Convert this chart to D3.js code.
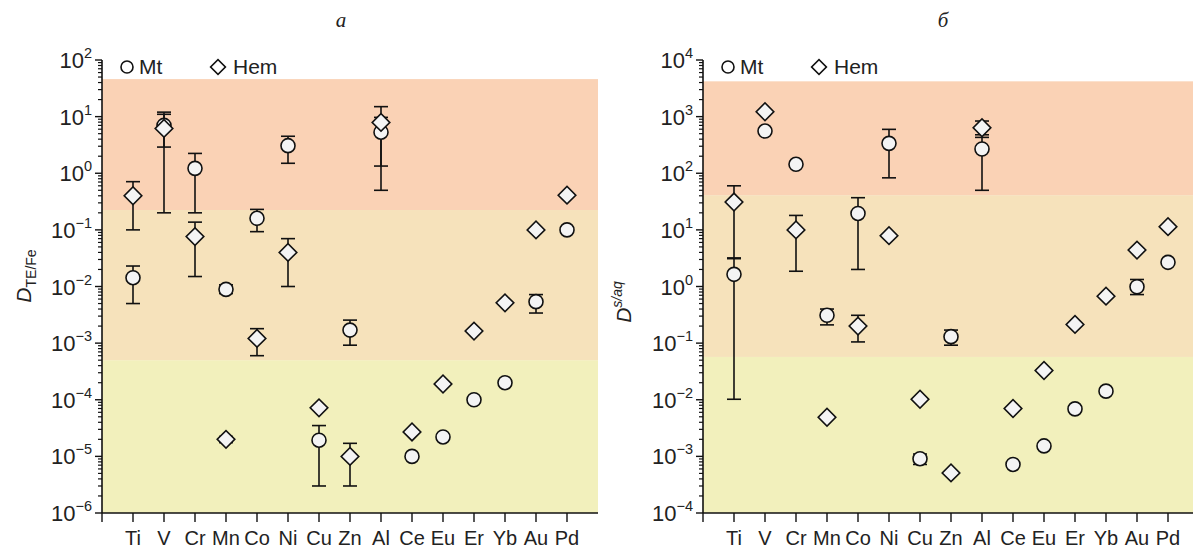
<!DOCTYPE html>
<html><head><meta charset="utf-8">
<script src="https://cdn.jsdelivr.net/npm/d3@7"></script>
<style>body{margin:0;background:#fff}svg{display:block;font-family:"Liberation Sans",Arial,sans-serif}</style>
</head><body>
<svg id="chart" width="1193" height="549"></svg>
<script>
const elements = ["Ti","V","Cr","Mn","Co","Ni","Cu","Zn","Al","Ce","Eu","Er","Yb","Au","Pd"];

// Panel а: D TE/Fe
const mtA    = [0.0143, 7.0, 1.22, 0.0089, 0.16, 3.07, 1.93e-5, 0.0017, 5.3, 1.0e-5, 2.2e-5, 1.0e-4, 2.0e-4, 0.0054, 0.10];
const mtALo  = [0.005, 0.2, 0.2, 0.0075, 0.093, 1.5, 3e-6, 0.00092, 1.34, null, null, null, null, 0.0034, null];
const mtAHi  = [0.023, 12, 2.24, 0.0107, 0.23, 4.5, 3.5e-5, 0.00255, 9.7, null, null, null, null, 0.0072, null];
const hemA   = [0.40, 6.2, 0.076, 2.0e-5, 0.00121, 0.04, 7.2e-5, 1.0e-5, 7.9, 2.7e-5, 1.9e-4, 0.00163, 0.00515, 0.10, 0.41];
const hemALo = [0.10, 2.9, 0.015, 1.75e-5, 0.0006, 0.01, null, 3e-6, 0.5, null, null, null, null, null, null];
const hemAHi = [0.71, 11, 0.137, 2.25e-5, 0.0018, 0.07, null, 1.7e-5, 15, null, null, null, null, null, null];
const bandsA = [1e-6, 5e-4, 0.224, 46];

// Panel б: D s/aq
const mtB    = [1.64, 557, 144, 0.31, 19.5, 337, 9.1e-4, 0.13, 268, 7.2e-4, 0.00153, 0.0069, 0.0142, 0.99, 2.67];
const mtBLo  = [0.0102, null, null, 0.21, 2.0, 83, 7.2e-4, 0.092, 50, null, null, null, null, 0.72, null];
const mtBHi  = [3.1, null, null, 0.40, 37, 596, 0.0011, 0.17, 430, null, null, null, null, 1.33, null];
const hemB   = [31, 1220, 10, 0.0049, 0.2, 7.9, 0.0102, 5.1e-4, 637, 0.0070, 0.0329, 0.214, 0.676, 4.4, 11.4];
const hemBLo = [3.2, null, 1.86, null, 0.105, null, null, null, 478, null, null, null, null, null, null];
const hemBHi = [60, null, 18, null, 0.31, null, null, null, 836, null, null, null, null, null, null];
const bandsB = [1e-4, 0.057, 41, 4200];

const expA = [-6,-5,-4,-3,-2,-1,0,1,2];
const expB = [-4,-3,-2,-1,0,1,2,3,4];

const bandColors = ["#f2f0bc", "#f6e2bb", "#fad2b5"];
const svg = d3.select("#chart");

function panel(opt) {
  const g = svg.append("g");
  const x = d3.scaleLinear().domain([0, 16]).range([opt.x0, opt.x0 + 496]);
  const y = d3.scaleLog().domain([Math.pow(10, opt.exps[0]), Math.pow(10, opt.exps[opt.exps.length-1])]).range([513, 60]);
  for (let i = 0; i < 3; i++) {
    g.append("rect").attr("x", x(0)).attr("width", x(16) - x(0))
      .attr("y", y(opt.bands[i+1])).attr("height", y(opt.bands[i]) - y(opt.bands[i+1]))
      .attr("fill", bandColors[i]);
  }
  const ya = g.append("g").attr("transform", `translate(${x(0)},0)`);
  ya.append("line").attr("y1", y.range()[1]).attr("y2", y.range()[0]).attr("stroke", "#111").attr("stroke-width", 1.6);
  const minors = [];
  opt.exps.slice(0, -1).forEach(e => { for (let m = 2; m <= 9; m++) minors.push(m * Math.pow(10, e)); });
  ya.selectAll(".mn").data(minors).join("line").attr("x1", -4).attr("x2", 0)
    .attr("y1", d => y(d)).attr("y2", d => y(d)).attr("stroke", "#111").attr("stroke-width", 1.2);
  ya.selectAll(".mj").data(opt.exps).join("line").attr("x1", -7).attr("x2", 0)
    .attr("y1", e => y(Math.pow(10, e))).attr("y2", e => y(Math.pow(10, e))).attr("stroke", "#111").attr("stroke-width", 1.4);
  const tl = ya.selectAll(".tl").data(opt.exps).join("text")
    .attr("x", -10).attr("y", e => y(Math.pow(10, e)) + 8)
    .attr("text-anchor", "end").attr("font-size", 22).attr("fill", "#222");
  tl.append("tspan").text("10");
  tl.append("tspan").attr("dy", -10).attr("font-size", 14.5).text(e => e < 0 ? "\u2212" + (-e) : e);
  const xa = g.append("g").attr("transform", "translate(0,513)");
  xa.append("line").attr("x1", x(0)).attr("x2", x(16)).attr("stroke", "#111").attr("stroke-width", 1.6);
  xa.selectAll(".xt").data(d3.range(0, 16)).join("line")
    .attr("x1", d => x(d)).attr("x2", d => x(d)).attr("y1", 0).attr("y2", 9).attr("stroke", "#111").attr("stroke-width", 1.4);
  xa.selectAll(".xl").data(elements).join("text")
    .attr("x", (d, i) => x(i + 1)).attr("y", 32).attr("text-anchor", "middle")
    .attr("font-size", 20).attr("fill", "#222").text(d => d);
  function errs(vals, lo, hi) {
    vals.forEach((v, i) => {
      const cx = x(i + 1);
      const segs = [];
      if (lo[i] != null) segs.push([v, lo[i]]);
      if (hi[i] != null) segs.push([v, hi[i]]);
      segs.forEach(([a, b]) => {
        g.append("line").attr("x1", cx).attr("x2", cx).attr("y1", y(a)).attr("y2", y(b)).attr("stroke", "#111").attr("stroke-width", 1.6);
        g.append("line").attr("x1", cx - 7).attr("x2", cx + 7).attr("y1", y(b)).attr("y2", y(b)).attr("stroke", "#111").attr("stroke-width", 1.6);
      });
    });
  }
  errs(opt.mt, opt.mtLo, opt.mtHi);
  errs(opt.hem, opt.hemLo, opt.hemHi);
  g.selectAll(".mt").data(opt.mt).join("circle")
    .attr("cx", (d, i) => x(i + 1)).attr("cy", d => y(d)).attr("r", 7)
    .attr("fill", "#f4f4f4").attr("stroke", "#111").attr("stroke-width", 1.6);
  const dia = d3.symbol().type(d3.symbolSquare).size(155);
  g.selectAll(".hem").data(opt.hem).join("path")
    .attr("d", dia).attr("transform", (d, i) => `translate(${x(i + 1)},${y(d)}) rotate(45)`)
    .attr("fill", "#f4f4f4").attr("stroke", "#111").attr("stroke-width", 1.6);
  const lg = g.append("g").attr("transform", `translate(${x(0)},0)`);
  lg.append("circle").attr("cx", 25).attr("cy", 67).attr("r", 6).attr("fill", "#fff").attr("stroke", "#111").attr("stroke-width", 1.6);
  lg.append("text").attr("x", 37).attr("y", 74).attr("font-size", 21).attr("fill", "#222").text("Mt");
  lg.append("path").attr("d", d3.symbol().type(d3.symbolSquare).size(110)).attr("transform", "translate(116,67) rotate(45)")
    .attr("fill", "#fff").attr("stroke", "#111").attr("stroke-width", 1.6);
  lg.append("text").attr("x", 131).attr("y", 74).attr("font-size", 21).attr("fill", "#222").text("Hem");
  g.append("text").attr("x", opt.titleX).attr("y", 27).attr("text-anchor", "middle")
    .attr("font-family", "Liberation Serif, serif").attr("font-style", "italic").attr("font-size", 21).attr("fill", "#222").text(opt.title);
  const yl = g.append("text").attr("transform", `translate(${opt.ylx},${opt.yly}) rotate(-90)`)
    .attr("text-anchor", "middle").attr("font-size", 21).attr("fill", "#222");
  yl.append("tspan").attr("font-style", "italic").text("D");
  if (opt.sub) yl.append("tspan").attr("dy", 5).attr("font-size", 14).text(opt.sub);
  if (opt.sup) yl.append("tspan").attr("dy", -9).attr("font-size", 14).attr("font-style", "italic").text(opt.sup);
}

panel({x0: 102, exps: expA, bands: bandsA, mt: mtA, mtLo: mtALo, mtHi: mtAHi, hem: hemA, hemLo: hemALo, hemHi: hemAHi,
  title: "а", titleX: 341, ylx: 31, yly: 276, sub: "TE/Fe"});
panel({x0: 703, exps: expB, bands: bandsB, mt: mtB, mtLo: mtBLo, mtHi: mtBHi, hem: hemB, hemLo: hemBLo, hemHi: hemBHi,
  title: "б", titleX: 943, ylx: 631, yly: 302, sup: "s/aq"});
</script>
</body></html>
